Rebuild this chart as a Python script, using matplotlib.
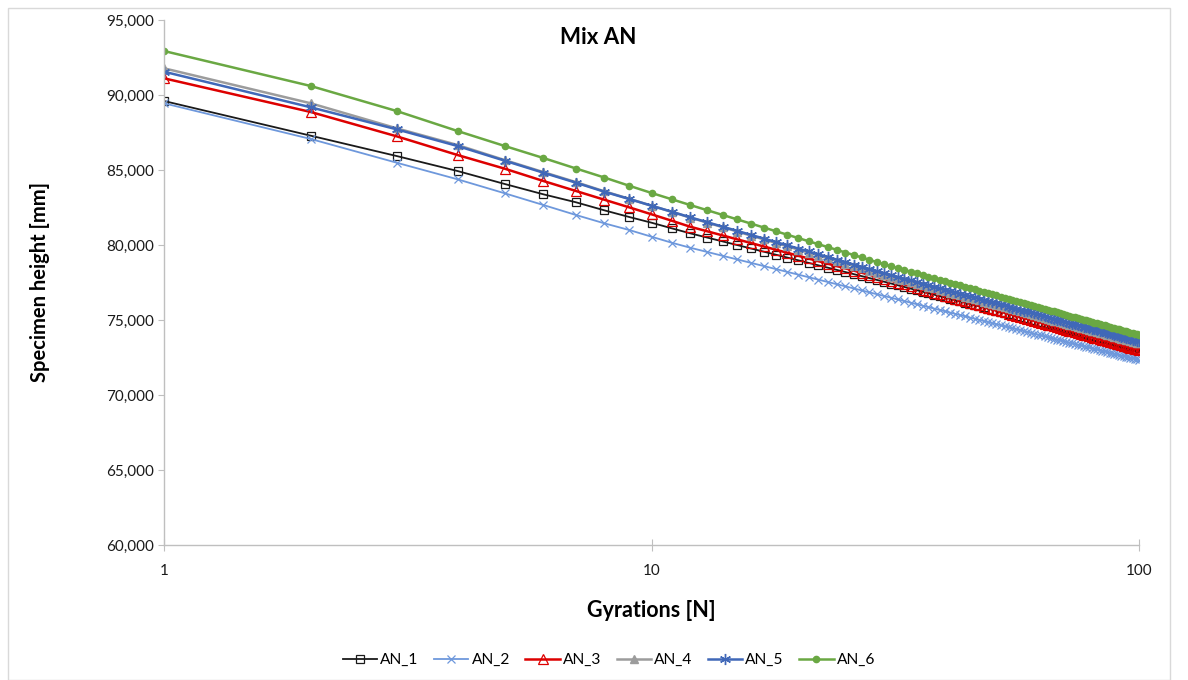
import numpy as np
import matplotlib
matplotlib.use('Agg')
import matplotlib.pyplot as plt
from matplotlib.ticker import FixedLocator, FuncFormatter, NullLocator
from matplotlib.patches import Rectangle

plt.rcParams['font.family'] = ['Lato', 'DejaVu Sans']

gyrations = np.arange(1, 101)

# specimen height [mm] after each gyration
an_1 = [
    89.600, 87.287, 85.933, 84.933, 84.067, 83.380, 82.847, 82.313, 81.867, 81.487,
    81.113, 80.780, 80.498, 80.237, 79.994, 79.767, 79.553, 79.352, 79.162, 78.981,
    78.809, 78.645, 78.489, 78.339, 78.195, 78.057, 77.924, 77.796, 77.672, 77.553,
    77.433, 77.317, 77.204, 77.095, 76.989, 76.886, 76.786, 76.689, 76.593, 76.501,
    76.411, 76.322, 76.236, 76.152, 76.070, 75.990, 75.911, 75.834, 75.759, 75.685,
    75.612, 75.541, 75.472, 75.403, 75.336, 75.270, 75.206, 75.142, 75.079, 75.018,
    74.958, 74.898, 74.840, 74.782, 74.725, 74.669, 74.615, 74.560, 74.507, 74.454,
    74.402, 74.351, 74.301, 74.251, 74.202, 74.154, 74.106, 74.059, 74.012, 73.966,
    73.920, 73.876, 73.831, 73.787, 73.744, 73.701, 73.659, 73.617, 73.576, 73.535,
    73.495, 73.455, 73.415, 73.376, 73.337, 73.299, 73.261, 73.224, 73.187, 73.150,
]
an_2 = [
    89.447, 87.067, 85.487, 84.380, 83.447, 82.667, 82.000, 81.447, 81.000, 80.553,
    80.153, 79.820, 79.539, 79.278, 79.036, 78.809, 78.596, 78.395, 78.205, 78.025,
    77.853, 77.690, 77.534, 77.384, 77.241, 77.103, 76.970, 76.842, 76.719, 76.600,
    76.484, 76.371, 76.262, 76.156, 76.054, 75.954, 75.857, 75.762, 75.670, 75.580,
    75.493, 75.407, 75.324, 75.243, 75.163, 75.085, 75.009, 74.934, 74.861, 74.789,
    74.719, 74.651, 74.583, 74.517, 74.452, 74.388, 74.325, 74.263, 74.203, 74.143,
    74.085, 74.027, 73.970, 73.915, 73.860, 73.805, 73.752, 73.700, 73.648, 73.597,
    73.547, 73.497, 73.448, 73.400, 73.352, 73.305, 73.259, 73.213, 73.168, 73.124,
    73.080, 73.036, 72.993, 72.951, 72.909, 72.867, 72.826, 72.786, 72.746, 72.706,
    72.667, 72.628, 72.590, 72.552, 72.515, 72.477, 72.441, 72.404, 72.368, 72.333,
]
an_3 = [
    91.113, 88.867, 87.247, 86.000, 85.087, 84.267, 83.600, 83.020, 82.510, 82.047,
    81.620, 81.220, 80.917, 80.636, 80.375, 80.131, 79.901, 79.684, 79.480, 79.285,
    79.101, 78.925, 78.756, 78.595, 78.440, 78.292, 78.149, 78.011, 77.878, 77.750,
    77.621, 77.495, 77.374, 77.256, 77.142, 77.031, 76.923, 76.817, 76.715, 76.615,
    76.518, 76.423, 76.330, 76.239, 76.150, 76.064, 75.979, 75.896, 75.814, 75.735,
    75.657, 75.580, 75.505, 75.431, 75.359, 75.288, 75.218, 75.149, 75.082, 75.015,
    74.950, 74.886, 74.823, 74.761, 74.700, 74.639, 74.580, 74.522, 74.464, 74.407,
    74.351, 74.296, 74.242, 74.188, 74.135, 74.083, 74.031, 73.980, 73.930, 73.880,
    73.831, 73.783, 73.735, 73.688, 73.641, 73.595, 73.550, 73.504, 73.460, 73.416,
    73.372, 73.329, 73.286, 73.244, 73.203, 73.161, 73.120, 73.080, 73.040, 73.000,
]
an_4 = [
    91.780, 89.447, 87.780, 86.667, 85.660, 84.860, 84.190, 83.580, 83.080, 82.620,
    82.210, 81.830, 81.495, 81.186, 80.897, 80.627, 80.374, 80.135, 79.909, 79.695,
    79.491, 79.296, 79.110, 78.933, 78.762, 78.598, 78.440, 78.288, 78.142, 78.000,
    77.876, 77.756, 77.640, 77.527, 77.417, 77.311, 77.207, 77.107, 77.008, 76.913,
    76.819, 76.728, 76.639, 76.553, 76.468, 76.385, 76.303, 76.224, 76.146, 76.069,
    75.995, 75.921, 75.849, 75.779, 75.709, 75.641, 75.574, 75.509, 75.444, 75.380,
    75.318, 75.257, 75.196, 75.137, 75.078, 75.020, 74.963, 74.907, 74.852, 74.798,
    74.744, 74.691, 74.639, 74.588, 74.537, 74.487, 74.438, 74.389, 74.341, 74.293,
    74.246, 74.200, 74.154, 74.109, 74.064, 74.020, 73.976, 73.933, 73.890, 73.848,
    73.806, 73.765, 73.724, 73.684, 73.644, 73.604, 73.565, 73.526, 73.488, 73.450,
]
an_5 = [
    91.553, 89.180, 87.713, 86.600, 85.620, 84.820, 84.153, 83.553, 83.067, 82.620,
    82.220, 81.847, 81.521, 81.219, 80.938, 80.675, 80.428, 80.195, 79.974, 79.765,
    79.567, 79.377, 79.196, 79.022, 78.856, 78.696, 78.543, 78.394, 78.251, 78.113,
    77.990, 77.870, 77.754, 77.642, 77.533, 77.427, 77.323, 77.223, 77.125, 77.030,
    76.937, 76.846, 76.758, 76.671, 76.586, 76.504, 76.423, 76.343, 76.266, 76.190,
    76.115, 76.042, 75.970, 75.900, 75.831, 75.763, 75.697, 75.631, 75.567, 75.503,
    75.441, 75.380, 75.320, 75.260, 75.202, 75.145, 75.088, 75.032, 74.977, 74.923,
    74.870, 74.817, 74.765, 74.714, 74.663, 74.613, 74.564, 74.516, 74.468, 74.420,
    74.373, 74.327, 74.282, 74.237, 74.192, 74.148, 74.104, 74.061, 74.019, 73.977,
    73.935, 73.894, 73.853, 73.813, 73.773, 73.734, 73.695, 73.656, 73.618, 73.580,
]
an_6 = [
    92.933, 90.600, 88.933, 87.600, 86.600, 85.800, 85.100, 84.500, 83.950, 83.470,
    83.050, 82.667, 82.322, 82.002, 81.704, 81.426, 81.164, 80.917, 80.684, 80.463,
    80.252, 80.051, 79.860, 79.676, 79.500, 79.331, 79.168, 79.011, 78.859, 78.713,
    78.585, 78.460, 78.340, 78.223, 78.110, 77.999, 77.892, 77.788, 77.686, 77.587,
    77.490, 77.396, 77.304, 77.214, 77.126, 77.040, 76.955, 76.873, 76.792, 76.713,
    76.636, 76.560, 76.485, 76.412, 76.340, 76.270, 76.200, 76.132, 76.065, 76.000,
    75.935, 75.871, 75.809, 75.747, 75.686, 75.626, 75.568, 75.510, 75.452, 75.396,
    75.340, 75.286, 75.232, 75.179, 75.126, 75.074, 75.023, 74.972, 74.923, 74.873,
    74.825, 74.777, 74.729, 74.682, 74.636, 74.590, 74.545, 74.500, 74.456, 74.412,
    74.369, 74.326, 74.284, 74.242, 74.201, 74.160, 74.119, 74.079, 74.039, 74.000,
]

labels = ['AN_1', 'AN_2', 'AN_3', 'AN_4', 'AN_5', 'AN_6']
y_ticks = [60, 65, 70, 75, 80, 85, 90, 95]
x_ticks = [1, 10, 100]

styles = [
    dict(color='#1a1a1a', marker='s', mfc='none', ms=6, mew=0.9, lw=1.3),
    dict(color='#6e98dc', marker='x', ms=6, mew=0.9, lw=1.3),
    dict(color='#dd0000', marker='^', mfc='none', ms=6.5, mew=0.9, lw=1.8),
    dict(color='#9c9c9c', marker='^', ms=5.5, lw=1.8),
    dict(color='#4068b8', marker=(6, 2, 0), ms=8, mew=1.0, lw=1.8),
    dict(color='#6aa843', marker='o', ms=4.5, lw=1.8),
]

fig = plt.figure(figsize=(11.88, 6.8), dpi=100)
ax = fig.add_axes([164 / 1188, 1 - 545 / 680, 975 / 1188, 525 / 680])

for series, name, st in zip([an_1, an_2, an_3, an_4, an_5, an_6], labels, styles):
    ax.plot(gyrations, series, label=name, **st)

ax.set_xscale('log')
ax.set_xlim(1, 100)
ax.set_ylim(60, 95)
ax.xaxis.set_major_locator(FixedLocator(x_ticks))
ax.xaxis.set_minor_locator(NullLocator())
ax.xaxis.set_major_formatter(FuncFormatter(lambda v, p: f'{v:g}'))
ax.yaxis.set_major_locator(FixedLocator(y_ticks))
ax.yaxis.set_major_formatter(FuncFormatter(lambda v, p: f'{v:.3f}'.replace('.', ',')))

for side in ['top', 'right']:
    ax.spines[side].set_visible(False)
for side in ['left', 'bottom']:
    ax.spines[side].set_color('#bfbfbf')
    ax.spines[side].set_linewidth(1.0)

ax.tick_params(axis='y', direction='out', length=4, width=0.8, color='#bfbfbf',
               labelsize=11, labelcolor='#1a1a1a', pad=3)
ax.tick_params(axis='x', direction='inout', length=8, width=0.8, color='#bfbfbf',
               labelsize=11, labelcolor='#1a1a1a', pad=10)

ax.set_ylabel('Specimen height [mm]', fontsize=14.5, fontweight='bold')
ax.yaxis.set_label_coords(-0.117, 0.5)
ax.set_xlabel('Gyrations [N]', fontsize=15.5, fontweight='bold')
ax.xaxis.set_label_coords(0.5, -0.105)

fig.text(598 / 1188, 1 - 38 / 680, 'Mix AN', ha='center', va='center',
         fontsize=16, fontweight='bold')

fig.legend(loc='center', bbox_to_anchor=(609 / 1188, 1 - 660 / 680), ncol=6,
           frameon=False, fontsize=11.2, handlelength=2.2, handletextpad=0.2,
           columnspacing=1.0)

# thin frame round the whole chart
fig.patches.append(Rectangle((8 / 1188, 0), 1162 / 1188, 1 - 8 / 680,
                             transform=fig.transFigure, fill=False,
                             edgecolor='#d9d9d9', linewidth=1.0))

fig.savefig('out.png', dpi=100)
